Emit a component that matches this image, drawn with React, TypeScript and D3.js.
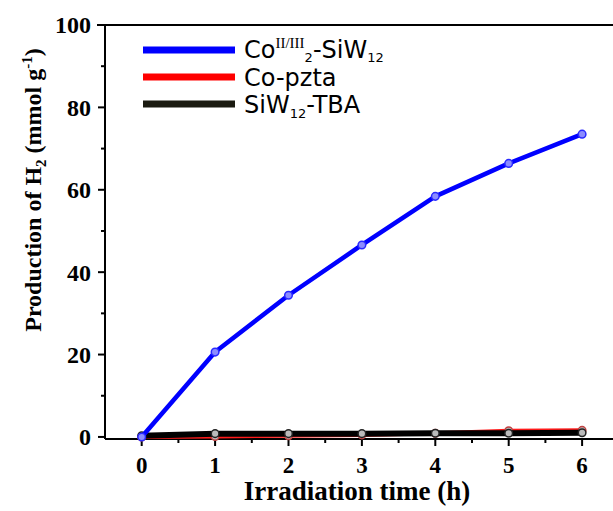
import React from "react";
import * as d3 from "d3";

const times = [0, 1, 2, 3, 4, 5, 6];
const blueValues = [0, 20.6, 34.4, 46.6, 58.4, 66.4, 73.5];
const redValues = [0, 0.1, 0.3, 0.5, 0.9, 1.5, 1.6];
const blackValues = [0.3, 0.8, 0.8, 0.8, 0.9, 0.9, 1.0];
const xTicks = [0, 1, 2, 3, 4, 5, 6];
const xMinor = [0.5, 1.5, 2.5, 3.5, 4.5, 5.5];
const yTicks = [0, 20, 40, 60, 80, 100];
const yMinor = [10, 30, 50, 70, 90];

const W = 613;
const H = 511;
const left = 105;
const top = 25;
const bottom = 439;

export default function App() {
  const x = d3.scaleLinear().domain([-0.5, 6.5]).range([left, left + 7 * 73.4]);
  const y = d3.scaleLinear().domain([-0.5, 100]).range([bottom, top]);
  const line = d3
    .line<number>()
    .x((_, i) => x(times[i]))
    .y((d) => y(d));

  const series = [
    { vals: redValues, color: "#ff1a1a", width: 4, marker: "#c04040" },
    { vals: blackValues, color: "#000000", width: 6, marker: "#222" },
    { vals: blueValues, color: "#0000ff", width: 4.5, marker: "#2a2aff" },
  ];

  const serif = "'Liberation Serif', 'Times New Roman', serif";
  const sans = "'DejaVu Sans', sans-serif";

  return (
    <svg width={W} height={H} style={{ position: "absolute", left: 0, top: 0, background: "#fff" }}>
      {/* frame */}
      <line x1={97} x2={W} y1={top} y2={top} stroke="#000" strokeWidth={2} />
      <line x1={left} x2={left} y1={top} y2={bottom} stroke="#000" strokeWidth={2} />
      <line x1={left} x2={W} y1={bottom} y2={bottom} stroke="#000" strokeWidth={2} />

      {/* y ticks */}
      {yTicks.map((t) => (
        <g key={"y" + t}>
          <line x1={left - 7} x2={left} y1={y(t)} y2={y(t)} stroke="#000" strokeWidth={2} />
          <text x={left - 14} y={y(t)} dy="0.35em" textAnchor="end" fontFamily={serif} fontWeight="bold" fontSize={24}>
            {t}
          </text>
        </g>
      ))}
      {yMinor.map((t) => (
        <line key={"ym" + t} x1={left - 4} x2={left} y1={y(t)} y2={y(t)} stroke="#000" strokeWidth={2} />
      ))}

      {/* x ticks */}
      {xTicks.map((t) => (
        <g key={"x" + t}>
          <line x1={x(t)} x2={x(t)} y1={bottom} y2={bottom + 7} stroke="#000" strokeWidth={2} />
          <text x={x(t)} y={bottom + 34} textAnchor="middle" fontFamily={serif} fontWeight="bold" fontSize={23}>
            {t}
          </text>
        </g>
      ))}
      {xMinor.map((t) => (
        <line key={"xm" + t} x1={x(t)} x2={x(t)} y1={bottom} y2={bottom + 4} stroke="#000" strokeWidth={2} />
      ))}

      {/* series */}
      {series.map((s, si) => (
        <g key={"s" + si}>
          <path d={line(s.vals) || ""} fill="none" stroke={s.color} strokeWidth={s.width} strokeLinejoin="round" />
          {s.vals.map((v, i) => (
            <circle
              key={i}
              cx={x(times[i])}
              cy={y(v)}
              r={3.8}
              fill={si === 2 ? "#8c8cff" : "#bbbbbb"}
              stroke={s.marker}
              strokeWidth={1.5}
            />
          ))}
        </g>
      ))}

      {/* legend */}
      <line x1={143} x2={235} y1={50} y2={50} stroke="#0000ff" strokeWidth={7} />
      <line x1={143} x2={235} y1={77} y2={77} stroke="#ff0000" strokeWidth={7} />
      <line x1={143} x2={235} y1={104} y2={104} stroke="#1a1a10" strokeWidth={7} />
      <text x={244} y={58} fontFamily={sans} fontSize={24} fill="#000">
        Co
        <tspan dy={-10} fontFamily={serif} fontSize={15}>II/III</tspan>
        <tspan dy={14} fontSize={13}>2</tspan>
        <tspan dy={-4}>-SiW</tspan>
        <tspan dy={4} fontSize={13}>12</tspan>
      </text>
      <text x={244} y={86} fontFamily={sans} fontSize={24} fill="#000">
        Co-pzta
      </text>
      <text x={244} y={113} fontFamily={sans} fontSize={24} fill="#000">
        SiW
        <tspan dy={5} fontSize={13}>12</tspan>
        <tspan dy={-5}>-TBA</tspan>
      </text>

      {/* axis titles */}
      <text x={357} y={500} textAnchor="middle" fontFamily={serif} fontWeight="bold" fontSize={27}>
        Irradiation time (h)
      </text>
      <text
        transform={`translate(41, 190) rotate(-90)`}
        textAnchor="middle"
        fontFamily={serif}
        fontWeight="bold"
        fontSize={24}
      >
        Production of H
        <tspan dy={5} fontSize={15}>2</tspan>
        <tspan dy={-5}> (mmol g</tspan>
        <tspan dy={-9} fontSize={15}>-1</tspan>
        <tspan dy={9}>)</tspan>
      </text>
    </svg>
  );
}
